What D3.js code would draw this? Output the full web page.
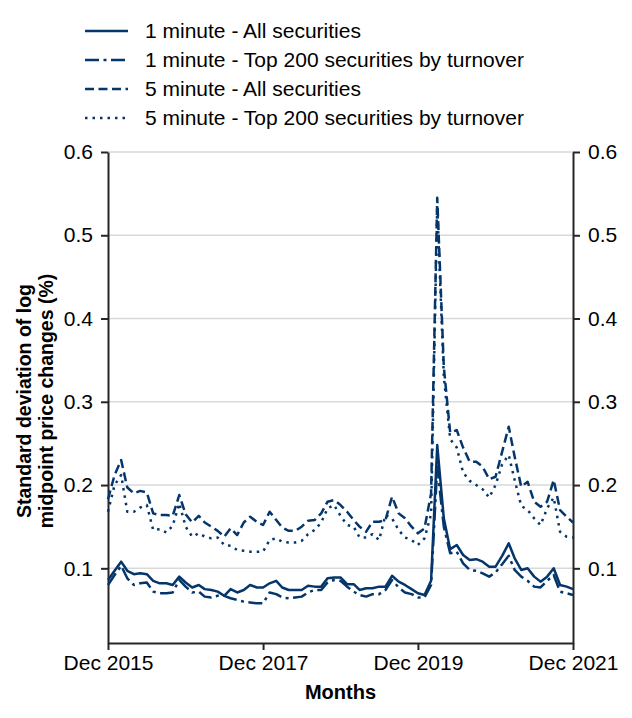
<html>
<head>
  <script src="https://d3js.org/d3.v7.min.js"></script>
  <style>
    body { margin: 0; background: #fff; }
    text { font-family: "Liberation Sans", Arial, sans-serif; }
  </style>
</head>
<body>
<script>

// months Dec 2015 .. Dec 2021
let months = d3.timeMonth.range(new Date(2015, 11, 1), new Date(2022, 0, 1));

let oneMinAll = [
  0.086, 0.097, 0.108, 0.097, 0.093, 0.094, 0.093, 0.085, 0.082, 0.082, 0.080, 0.090,
  0.083, 0.077, 0.080, 0.075, 0.074, 0.072, 0.067, 0.075, 0.071, 0.074, 0.080, 0.077,
  0.077, 0.082, 0.085, 0.077, 0.074, 0.074, 0.074, 0.079, 0.078, 0.078, 0.088, 0.089,
  0.089, 0.081, 0.081, 0.074, 0.076, 0.076, 0.078, 0.078, 0.091, 0.084, 0.080, 0.075,
  0.070, 0.068, 0.085, 0.248, 0.160, 0.123, 0.128, 0.116, 0.110, 0.111, 0.108, 0.102,
  0.102, 0.115, 0.130, 0.112, 0.098, 0.100, 0.090, 0.084, 0.090, 0.100, 0.080, 0.078,
  0.075
];

let oneMinTop = [
  0.080, 0.092, 0.103, 0.088, 0.080, 0.082, 0.083, 0.072, 0.070, 0.070, 0.071, 0.086,
  0.078, 0.071, 0.072, 0.066, 0.065, 0.067, 0.067, 0.064, 0.062, 0.060, 0.059, 0.058,
  0.058, 0.071, 0.069, 0.065, 0.064, 0.065, 0.066, 0.071, 0.074, 0.074, 0.083, 0.086,
  0.085, 0.078, 0.072, 0.068, 0.066, 0.069, 0.069, 0.074, 0.086, 0.077, 0.071, 0.069,
  0.065, 0.065, 0.080, 0.222, 0.150, 0.118, 0.120, 0.106, 0.098, 0.097, 0.094, 0.090,
  0.095, 0.105, 0.115, 0.098, 0.090, 0.085, 0.078, 0.077, 0.085, 0.092, 0.072, 0.070,
  0.068
];

let fiveMinAll = [
  0.183, 0.212, 0.230, 0.197, 0.190, 0.193, 0.191, 0.166, 0.164, 0.164, 0.163, 0.188,
  0.165, 0.155, 0.163, 0.155, 0.150, 0.145, 0.138, 0.148, 0.140, 0.155, 0.162, 0.156,
  0.152, 0.168, 0.158, 0.149, 0.145, 0.145, 0.150, 0.157, 0.158, 0.166, 0.180, 0.182,
  0.176, 0.168, 0.158, 0.150, 0.144, 0.156, 0.156, 0.158, 0.186, 0.166, 0.160, 0.150,
  0.142, 0.148, 0.190, 0.545, 0.342, 0.263, 0.266, 0.245, 0.228, 0.228, 0.222, 0.207,
  0.210, 0.240, 0.270, 0.234, 0.198, 0.204, 0.180, 0.174, 0.180, 0.206, 0.170, 0.162,
  0.155
];

let fiveMinTop = [
  0.168, 0.200, 0.212, 0.168, 0.168, 0.173, 0.176, 0.146, 0.147, 0.143, 0.151, 0.178,
  0.150, 0.138, 0.142, 0.138, 0.136, 0.137, 0.128, 0.127, 0.122, 0.121, 0.120, 0.120,
  0.120, 0.134, 0.136, 0.132, 0.131, 0.131, 0.133, 0.141, 0.146, 0.155, 0.172, 0.176,
  0.163, 0.152, 0.150, 0.137, 0.137, 0.141, 0.134, 0.164, 0.160, 0.146, 0.137, 0.134,
  0.128, 0.136, 0.165, 0.535, 0.330, 0.255, 0.245, 0.215, 0.205, 0.200, 0.195, 0.185,
  0.200, 0.225, 0.236, 0.206, 0.175, 0.170, 0.160, 0.152, 0.172, 0.185, 0.144, 0.138,
  0.137
];

let seriesNames = [
  "1 minute - All securities",
  "1 minute - Top 200 securities by turnover",
  "5 minute - All securities",
  "5 minute - Top 200 securities by turnover"
];

let xTickLabels = ["Dec 2015", "Dec 2017", "Dec 2019", "Dec 2021"];
let yTicks = [0.1, 0.2, 0.3, 0.4, 0.5, 0.6];

init();

function init() {

  let canvasW = 632;
  let canvasH = 718;
  let left = 108, right = 573, top = 152, bottom = 643;
  let navy = "#04366b";
  let dashes = [null, "14,4.5,3,4.5", "9,4.5", "2.5,5"];

  let svg = d3.select("body").append("svg")
    .attr("width", canvasW)
    .attr("height", canvasH);

  let x = d3.scaleTime()
    .domain([months[0], months[months.length - 1]])
    .range([left, right]);

  let y = d3.scaleLinear()
    .domain([0.0103, 0.6])
    .range([bottom, top]);

  // gridlines
  svg.selectAll(".grid")
    .data(yTicks)
    .enter()
    .append("line")
    .attr("x1", left)
    .attr("x2", right)
    .attr("y1", d => y(d))
    .attr("y2", d => y(d))
    .attr("stroke", "#d9d9d9")
    .attr("stroke-width", 1.5);

  // axes
  let xTickDates = xTickLabels.map(s => d3.timeParse("%b %Y")(s));

  let xAxis = svg.append("g")
    .attr("transform", "translate(0," + bottom + ")")
    .call(d3.axisBottom(x)
      .tickValues(xTickDates)
      .tickFormat((d, i) => xTickLabels[i])
      .tickSize(7)
      .tickPadding(5)
      .tickSizeOuter(0));

  let yLeft = svg.append("g")
    .attr("transform", "translate(" + left + ",0)")
    .call(d3.axisLeft(y).tickValues(yTicks).tickFormat(d3.format(".1f")).tickSize(7).tickPadding(8).tickSizeOuter(0));

  let yRight = svg.append("g")
    .attr("transform", "translate(" + right + ",0)")
    .call(d3.axisRight(y).tickValues(yTicks).tickFormat(d3.format(".1f")).tickSize(7).tickPadding(8).tickSizeOuter(0));

  [xAxis, yLeft, yRight].forEach(g => {
    g.selectAll("path, line").attr("stroke", "#262626").attr("stroke-width", 2);
    g.selectAll("text")
      .attr("font-family", "Liberation Sans, Arial, sans-serif")
      .attr("font-size", "21px")
      .attr("fill", "#000");
  });

  // lines
  let allSeries = [oneMinAll, oneMinTop, fiveMinAll, fiveMinTop];
  let line = d3.line()
    .x((d, i) => x(months[i]))
    .y(d => y(d));

  svg.selectAll(".series")
    .data(allSeries)
    .enter()
    .append("path")
    .attr("d", d => line(d))
    .attr("fill", "none")
    .attr("stroke", navy)
    .attr("stroke-width", 2.5)
    .attr("stroke-linejoin", "round")
    .attr("stroke-dasharray", (d, i) => dashes[i]);

  // legend
  let legY = [31, 60, 89, 118];
  let legend = svg.selectAll(".leg")
    .data(seriesNames)
    .enter()
    .append("g")
    .attr("transform", (d, i) => "translate(85," + legY[i] + ")");

  legend.append("line")
    .attr("x1", 0)
    .attr("x2", 43)
    .attr("stroke", navy)
    .attr("stroke-width", 2.5)
    .attr("stroke-dasharray", (d, i) => dashes[i]);

  legend.append("text")
    .attr("x", 60)
    .attr("y", 7)
    .attr("font-size", "21px")
    .attr("fill", "#000")
    .text(d => d);

  // axis titles
  svg.append("text")
    .attr("x", (left + right) / 2)
    .attr("y", 699)
    .attr("text-anchor", "middle")
    .attr("font-size", "20px")
    .attr("font-weight", "bold")
    .text("Months");

  let yTitle = svg.append("text")
    .attr("transform", "translate(31,401) rotate(-90)")
    .attr("text-anchor", "middle")
    .attr("font-size", "19.5px")
    .attr("font-weight", "bold");

  yTitle.append("tspan").attr("x", 0).attr("dy", 0).text("Standard deviation of log");
  yTitle.append("tspan").attr("x", 0).attr("dy", 22).text("midpoint price changes (%)");
}

</script>
</body>
</html>
